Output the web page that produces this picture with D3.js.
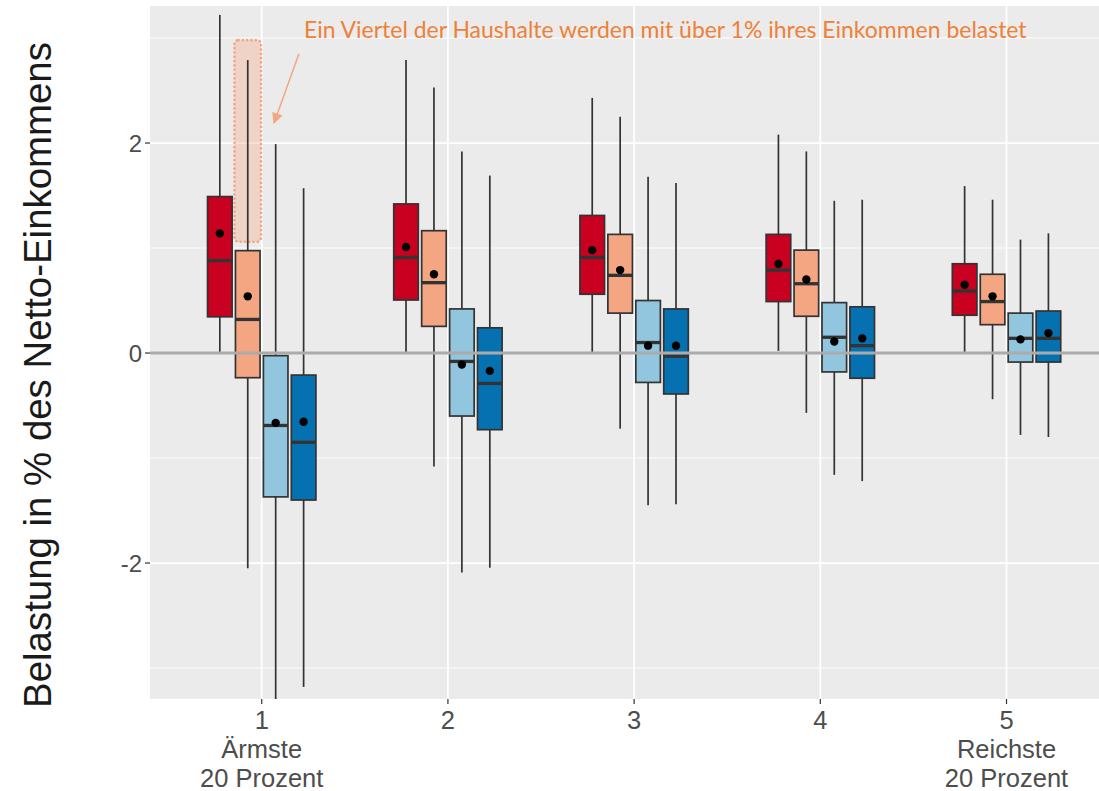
<!DOCTYPE html>
<html>
<head>
<meta charset="utf-8">
<script src="https://cdn.jsdelivr.net/npm/d3@7"></script>
<style>
  html, body { margin: 0; padding: 0; background: #fff; }
  svg { display: block; }
</style>
</head>
<body>
<svg id="chart" width="1099" height="791"></svg>
<script>
// Income quintiles on the x axis
const quintiles = [1, 2, 3, 4, 5];
const quintileLabels = [["1", "Ärmste", "20 Prozent"], ["2"], ["3"], ["4"], ["5", "Reichste", "20 Prozent"]];

// Four scenarios, drawn side by side within each quintile
const scenarios = ["Szenario 1", "Szenario 2", "Szenario 3", "Szenario 4"];
const scenarioColors = ["#CA0020", "#F4A582", "#92C5DE", "#0571B0"];

// Box-plot statistics, one row per quintile, one entry per scenario
const whiskerHigh = [
  [3.22, 2.79, 1.99, 1.57],
  [2.79, 2.53, 1.92, 1.69],
  [2.43, 2.25, 1.68, 1.62],
  [2.08, 1.92, 1.45, 1.46],
  [1.59, 1.46, 1.08, 1.14]
];
const upperQuartile = [
  [1.49, 0.975, -0.025, -0.21],
  [1.42, 1.165, 0.42, 0.24],
  [1.31, 1.13, 0.50, 0.42],
  [1.13, 0.98, 0.48, 0.44],
  [0.85, 0.75, 0.38, 0.40]
];
const medians = [
  [0.88, 0.32, -0.69, -0.85],
  [0.91, 0.67, -0.08, -0.29],
  [0.91, 0.74, 0.10, -0.03],
  [0.79, 0.66, 0.15, 0.07],
  [0.59, 0.49, 0.14, 0.14]
];
const lowerQuartile = [
  [0.345, -0.235, -1.37, -1.40],
  [0.505, 0.254, -0.60, -0.73],
  [0.56, 0.38, -0.28, -0.39],
  [0.49, 0.35, -0.18, -0.24],
  [0.36, 0.27, -0.086, -0.086]
];
const whiskerLow = [
  [0.01, -2.05, -3.45, -3.18],
  [0.01, -1.08, -2.09, -2.045],
  [0.01, -0.72, -1.45, -1.44],
  [0.02, -0.57, -1.16, -1.22],
  [0.01, -0.44, -0.78, -0.80]
];
const means = [
  [1.14, 0.54, -0.665, -0.655],
  [1.01, 0.75, -0.11, -0.17],
  [0.98, 0.79, 0.07, 0.07],
  [0.85, 0.70, 0.11, 0.14],
  [0.65, 0.54, 0.13, 0.19]
];

// Highlighted range: upper quarter of the poorest quintile in scenario 2
const highlightRange = [1.06, 2.98];
const annotationText = "Ein Viertel der Haushalte werden mit über 1% ihres Einkommen belastet";

const yTicks = [-2, 0, 2];
const yMinor = [-3, -1, 1, 3];

const svg = d3.select("#chart");
const panel = { left: 150, right: 1099, top: 6, bottom: 699 };

const x = d3.scaleLinear().domain([0.4, 5.6]).range([panel.left, panel.left + 5.2 * 186.2]);
const y = d3.scaleLinear().domain([-3.295, 3.305]).range([panel.bottom, panel.top]);

const dodge = [-0.225, -0.075, 0.075, 0.225];
const halfBox = 0.066;

// Panel background
const defs = svg.append("defs");
defs.append("clipPath").attr("id", "panelClip")
  .append("rect")
  .attr("x", panel.left).attr("y", panel.top)
  .attr("width", panel.right - panel.left).attr("height", panel.bottom - panel.top);

svg.append("rect")
  .attr("x", panel.left).attr("y", panel.top)
  .attr("width", panel.right - panel.left).attr("height", panel.bottom - panel.top)
  .attr("fill", "#EBEBEB");

const plot = svg.append("g").attr("clip-path", "url(#panelClip)");

// Grid
plot.selectAll(".minor").data(yMinor).join("line")
  .attr("x1", panel.left).attr("x2", panel.right)
  .attr("y1", d => y(d)).attr("y2", d => y(d))
  .attr("stroke", "#fff").attr("stroke-width", 0.9);
plot.selectAll(".majorY").data(yTicks).join("line")
  .attr("x1", panel.left).attr("x2", panel.right)
  .attr("y1", d => y(d)).attr("y2", d => y(d))
  .attr("stroke", "#fff").attr("stroke-width", 1.7);
plot.selectAll(".majorX").data(quintiles).join("line")
  .attr("y1", panel.top).attr("y2", panel.bottom)
  .attr("x1", d => x(d)).attr("x2", d => x(d))
  .attr("stroke", "#fff").attr("stroke-width", 1.7);

// Flatten statistics into one record per box
const boxes = [];
quintiles.forEach((q, i) => {
  scenarios.forEach((s, j) => {
    boxes.push({
      q, j, pos: q + dodge[j],
      hi: whiskerHigh[i][j], q3: upperQuartile[i][j], med: medians[i][j],
      q1: lowerQuartile[i][j], lo: whiskerLow[i][j], mean: means[i][j]
    });
  });
});

// Highlight box behind the second scenario of quintile 1
const hx = 1 + dodge[1];
plot.append("rect")
  .attr("x", x(hx - halfBox) - 1).attr("width", x(hx + halfBox) - x(hx - halfBox) + 2)
  .attr("y", y(highlightRange[1])).attr("height", y(highlightRange[0]) - y(highlightRange[1]))
  .attr("rx", 4).attr("ry", 4)
  .attr("fill", "#F4A582").attr("fill-opacity", 0.35)
  .attr("stroke", "#F4A582").attr("stroke-width", 2.6)
  .attr("stroke-dasharray", "0.1,4.2").attr("stroke-linecap", "round");

const g = plot.append("g");
const strokeCol = "#333333";

// Whiskers
g.selectAll(".whiskerUp").data(boxes).join("line")
  .attr("x1", d => x(d.pos)).attr("x2", d => x(d.pos))
  .attr("y1", d => y(d.hi)).attr("y2", d => y(d.q3))
  .attr("stroke", strokeCol).attr("stroke-width", 1.7);
g.selectAll(".whiskerDown").data(boxes).join("line")
  .attr("x1", d => x(d.pos)).attr("x2", d => x(d.pos))
  .attr("y1", d => y(d.q1)).attr("y2", d => y(d.lo))
  .attr("stroke", strokeCol).attr("stroke-width", 1.7);

// Boxes
g.selectAll(".box").data(boxes).join("rect")
  .attr("x", d => x(d.pos - halfBox)).attr("width", d => x(d.pos + halfBox) - x(d.pos - halfBox))
  .attr("y", d => y(d.q3)).attr("height", d => y(d.q1) - y(d.q3))
  .attr("fill", d => scenarioColors[d.j])
  .attr("stroke", strokeCol).attr("stroke-width", 1.7);

// Medians
g.selectAll(".median").data(boxes).join("line")
  .attr("x1", d => x(d.pos - halfBox)).attr("x2", d => x(d.pos + halfBox))
  .attr("y1", d => y(d.med)).attr("y2", d => y(d.med))
  .attr("stroke", strokeCol).attr("stroke-width", 3.3);

// Zero reference line
plot.append("line")
  .attr("x1", panel.left).attr("x2", panel.right)
  .attr("y1", y(0)).attr("y2", y(0))
  .attr("stroke", "#ABABAB").attr("stroke-width", 3);

// Means
plot.selectAll(".mean").data(boxes).join("circle")
  .attr("cx", d => x(d.pos)).attr("cy", d => y(d.mean))
  .attr("r", 4.2).attr("fill", "#000");

// Axes ticks
svg.selectAll(".yTick").data(yTicks).join("line")
  .attr("x1", panel.left - 5).attr("x2", panel.left)
  .attr("y1", d => y(d)).attr("y2", d => y(d))
  .attr("stroke", "#333").attr("stroke-width", 1.2);
svg.selectAll(".yLabel").data(yTicks).join("text")
  .attr("x", panel.left - 8).attr("y", d => y(d))
  .attr("text-anchor", "end").attr("dominant-baseline", "central")
  .attr("font-family", "Liberation Sans, Arial, sans-serif")
  .attr("font-size", 24).attr("fill", "#4D4D4D")
  .text(d => d);

svg.selectAll(".xTick").data(quintiles).join("line")
  .attr("x1", d => x(d)).attr("x2", d => x(d))
  .attr("y1", panel.bottom).attr("y2", panel.bottom + 5)
  .attr("stroke", "#333").attr("stroke-width", 1.2);
const xl = svg.selectAll(".xLabel").data(quintiles).join("text")
  .attr("text-anchor", "middle")
  .attr("font-family", "Liberation Sans, Arial, sans-serif")
  .attr("font-size", 25.5).attr("fill", "#4D4D4D");
xl.each(function(d, i) {
  const t = d3.select(this);
  quintileLabels[i].forEach((line, k) => {
    t.append("tspan").attr("x", x(d)).attr("y", 729 + k * 29).text(line);
  });
});

// Y axis title
const title = svg.append("text")
  .attr("transform", "translate(51,375) rotate(-90)")
  .attr("text-anchor", "middle")
  .attr("font-family", "Liberation Sans, Arial, sans-serif")
  .attr("font-size", 36).attr("fill", "#1A1A1A")
  .text("Belastung in % des Netto-Einkommens");
const tl = title.node().getComputedTextLength();
title.attr("font-size", 36 * 666 / tl);

// Annotation
const note = svg.append("text")
  .attr("x", 304).attr("y", 38)
  .attr("font-family", "Lato, 'Open Sans', sans-serif")
  .attr("font-size", 20).attr("fill", "#EE8139")
  .text(annotationText);
const nl = note.node().getComputedTextLength();
note.attr("font-size", 20 * 723 / nl);

// Arrow from the note to the highlighted range
defs.append("marker")
  .attr("id", "arrowHead").attr("viewBox", "0 0 10 10")
  .attr("refX", 9).attr("refY", 5)
  .attr("markerWidth", 12).attr("markerHeight", 11)
  .attr("markerUnits", "userSpaceOnUse")
  .attr("orient", "auto")
  .append("path").attr("d", "M0,0 L10,5 L0,10 Z").attr("fill", "#F4A582");
svg.append("line")
  .attr("x1", x(1.2)).attr("y1", y(2.85))
  .attr("x2", x(1.066)).attr("y2", y(2.19))
  .attr("stroke", "#F4A582").attr("stroke-width", 1.5)
  .attr("marker-end", "url(#arrowHead)");
</script>
</body>
</html>
